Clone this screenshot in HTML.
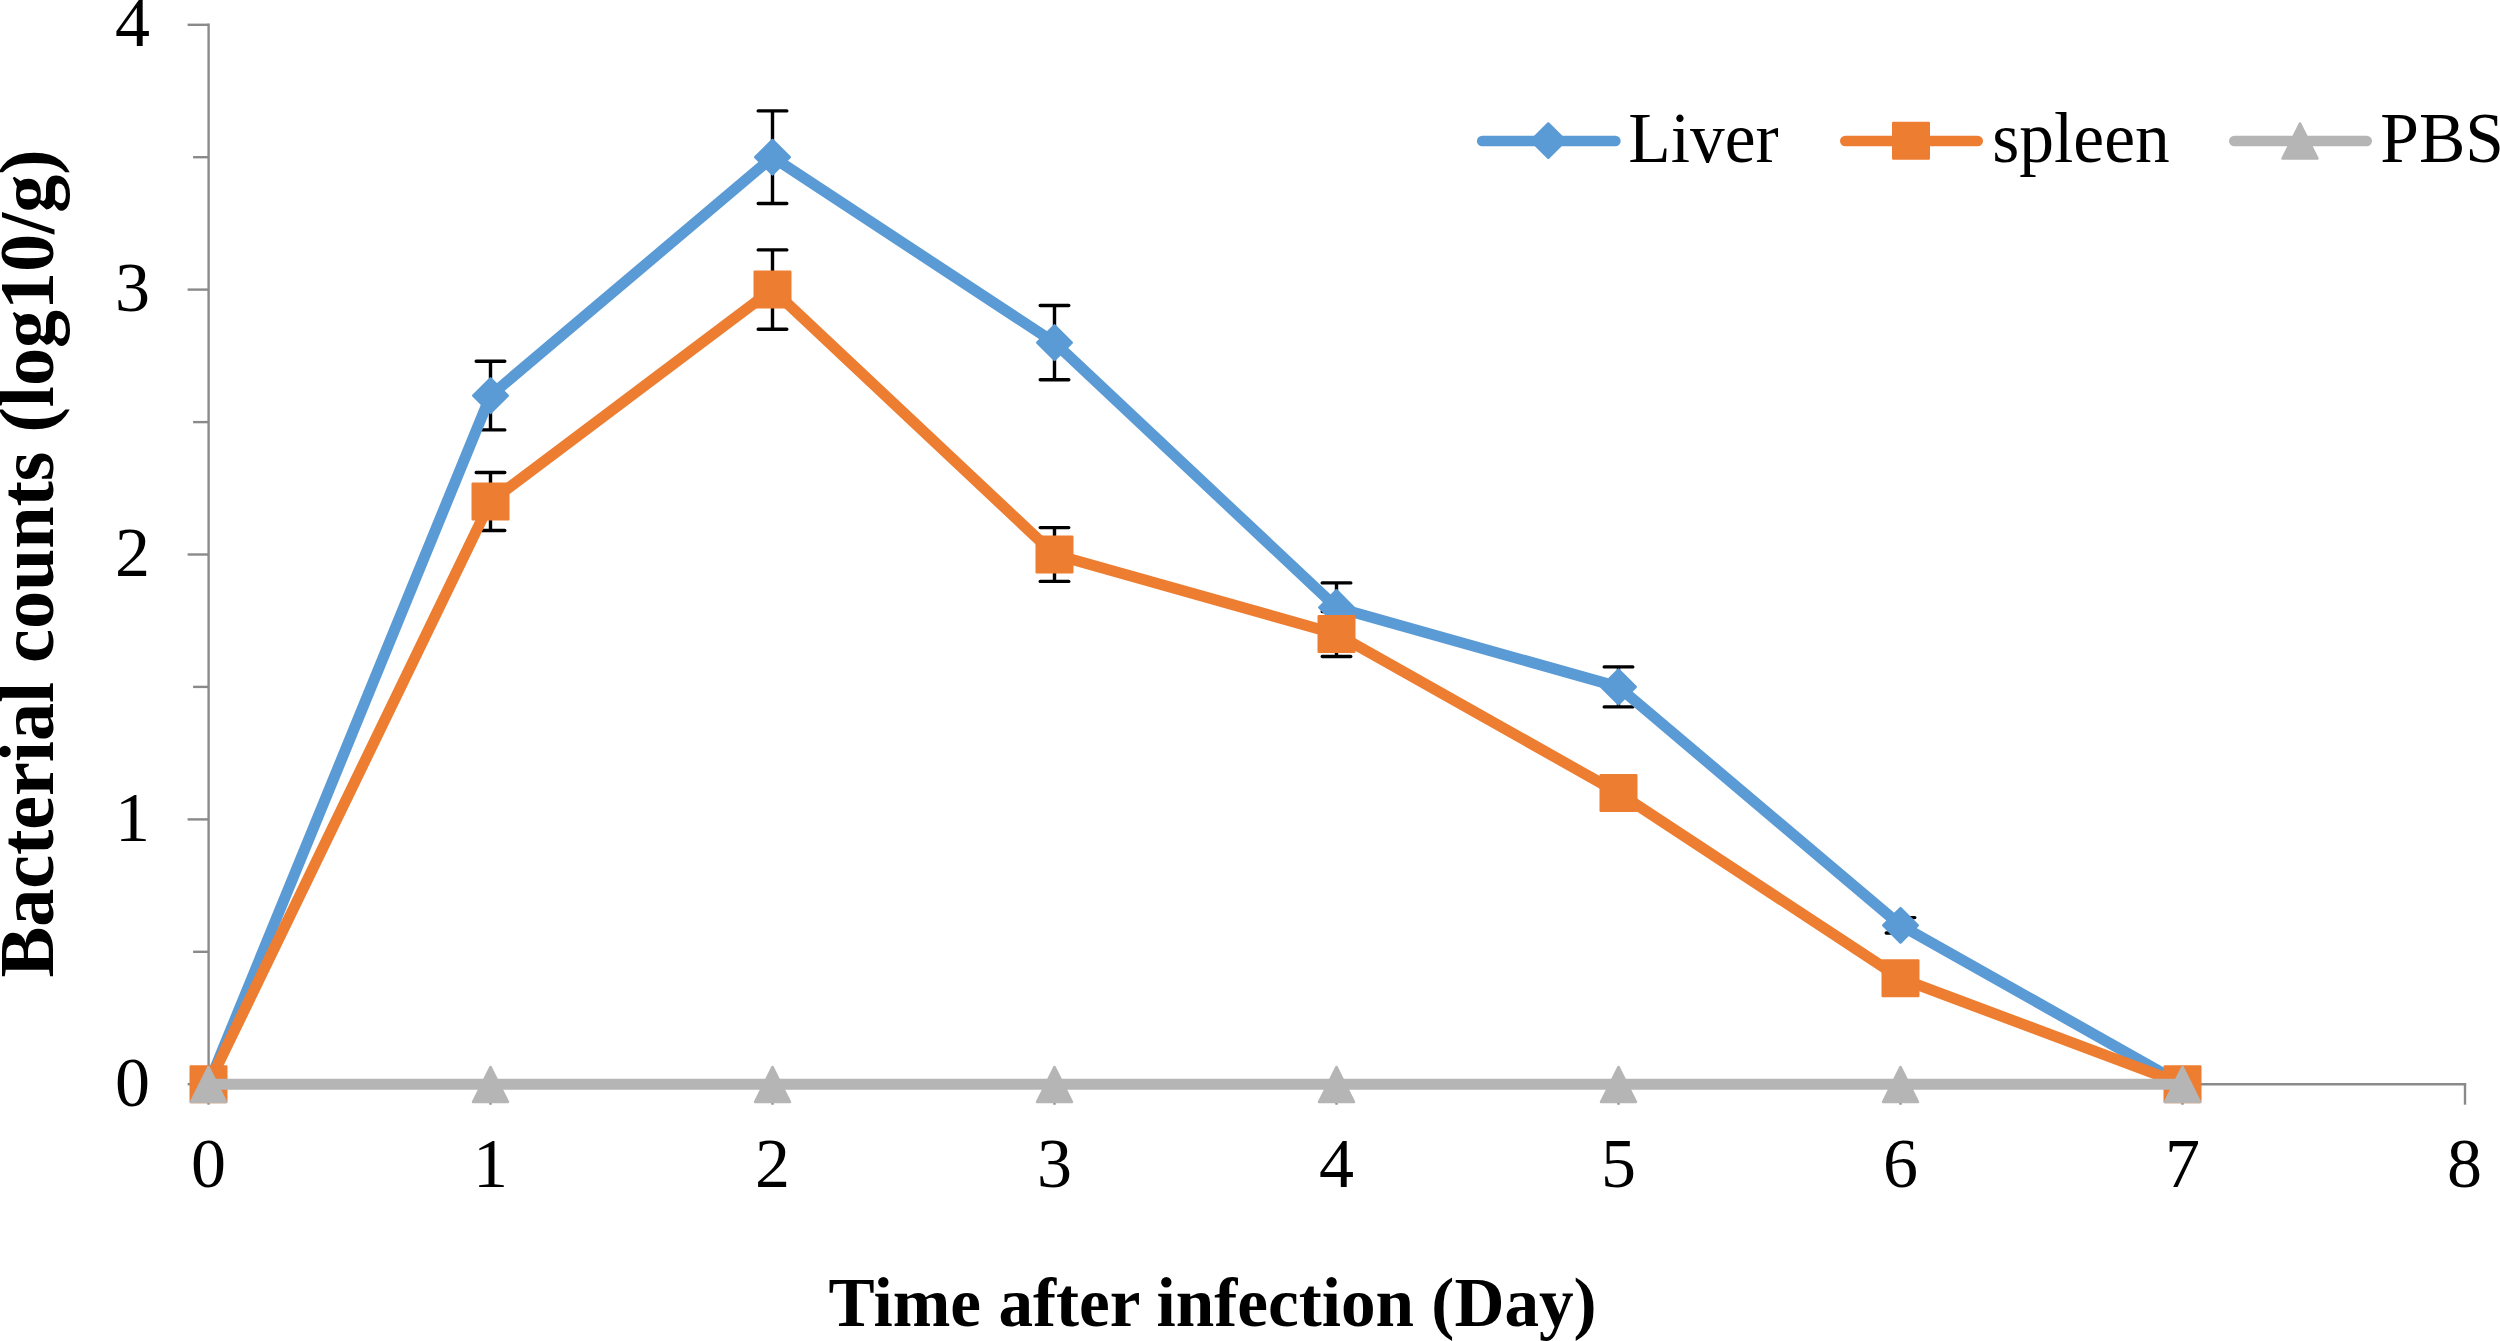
<!DOCTYPE html>
<html lang="en"><head><meta charset="utf-8"><title>Bacterial counts</title>
<style>
html,body{margin:0;padding:0;background:#fff;}
body{width:2500px;height:1341px;overflow:hidden;}
svg{display:block;}
text{font-family:"Liberation Serif","Times New Roman",serif;fill:#000;}
.t{font-size:70px;}
.b{font-weight:bold;}
</style></head><body>
<svg width="2500" height="1341" viewBox="0 0 2500 1341">
<rect width="2500" height="1341" fill="#fff"/>
<g stroke="#8a8a8a" stroke-width="2.4" fill="none" stroke-linecap="butt">
<path d="M208.6 23.6V1085.4"/>
<path d="M207.4 1084.2H2466.2"/>
<path d="M187.6 1084.2H208.6"/>
<path d="M193.1 951.8H208.6"/>
<path d="M187.6 819.4H208.6"/>
<path d="M193.1 686.9H208.6"/>
<path d="M187.6 554.5H208.6"/>
<path d="M193.1 422.1H208.6"/>
<path d="M187.6 289.6H208.6"/>
<path d="M193.1 157.2H208.6"/>
<path d="M187.6 24.8H208.6"/>
<path d="M208.5 1084.2V1104.7"/>
<path d="M490.5 1084.2V1104.7"/>
<path d="M772.5 1084.2V1104.7"/>
<path d="M1054.5 1084.2V1104.7"/>
<path d="M1336.5 1084.2V1104.7"/>
<path d="M1618.5 1084.2V1104.7"/>
<path d="M1900.5 1084.2V1104.7"/>
<path d="M2182.5 1084.2V1104.7"/>
<path d="M2465.0 1084.2V1104.7"/>
</g>
<g class="t" text-anchor="end">
<text x="150" y="1105.5">0</text>
<text x="150" y="840.6">1</text>
<text x="150" y="575.8">2</text>
<text x="150" y="310.9">3</text>
<text x="150" y="46.1">4</text>
</g>
<g class="t" text-anchor="middle">
<text x="208.5" y="1187">0</text>
<text x="490.5" y="1187">1</text>
<text x="772.5" y="1187">2</text>
<text x="1054.5" y="1187">3</text>
<text x="1336.5" y="1187">4</text>
<text x="1618.5" y="1187">5</text>
<text x="1900.5" y="1187">6</text>
<text x="2182.5" y="1187">7</text>
<text x="2464.5" y="1187">8</text>
</g>
<text class="b" transform="translate(828.6 1326) scale(0.983 1)" font-size="70.4">Time after infection (Day)</text>
<text class="b" transform="translate(52.9 977.6) rotate(-90) scale(0.963 1)" font-size="79">Bacterial counts (log10/g)</text>
<g stroke="#000" stroke-width="3.4" stroke-linecap="round" fill="none"><path d="M490.5 361.3V429.9M476.2 361.3h28.6M476.2 429.9h28.6"/><path d="M772.5 110.9V203.5M758.2 110.9h28.6M758.2 203.5h28.6"/><path d="M1054.5 305.5V379.7M1040.2 305.5h28.6M1040.2 379.7h28.6"/><path d="M1336.5 582.9V632.1M1322.2 582.9h28.6M1322.2 632.1h28.6"/><path d="M1618.5 666.9V706.9M1604.2 666.9h28.6M1604.2 706.9h28.6"/><path d="M1900.5 917.6V933.0M1886.2 917.6h28.6M1886.2 933.0h28.6"/></g>
<g stroke="#000" stroke-width="3.4" stroke-linecap="round" fill="none"><path d="M490.5 472.5V530.5M476.2 472.5h28.6M476.2 530.5h28.6"/><path d="M772.5 249.9V329.3M758.2 249.9h28.6M758.2 329.3h28.6"/><path d="M1054.5 527.6V581.4M1040.2 527.6h28.6M1040.2 581.4h28.6"/><path d="M1336.5 611.5V656.5M1322.2 611.5h28.6M1322.2 656.5h28.6"/></g>
<polyline points="208.5,1084.2 490.5,395.6 772.5,157.2 1054.5,342.6 1336.5,607.5 1618.5,686.9 1900.5,925.3 2182.5,1084.2" fill="none" stroke="#5b9bd5" stroke-width="11" stroke-linejoin="round" stroke-linecap="round"/>
<path d="M208.5 1066.9L225.8 1084.2L208.5 1101.5L191.2 1084.2Z" fill="#5b9bd5" stroke="#5b9bd5" stroke-width="2.4" stroke-linejoin="round"/>
<path d="M490.5 378.3L507.8 395.6L490.5 412.9L473.2 395.6Z" fill="#5b9bd5" stroke="#5b9bd5" stroke-width="2.4" stroke-linejoin="round"/>
<path d="M772.5 139.9L789.8 157.2L772.5 174.5L755.2 157.2Z" fill="#5b9bd5" stroke="#5b9bd5" stroke-width="2.4" stroke-linejoin="round"/>
<path d="M1054.5 325.3L1071.8 342.6L1054.5 359.9L1037.2 342.6Z" fill="#5b9bd5" stroke="#5b9bd5" stroke-width="2.4" stroke-linejoin="round"/>
<path d="M1336.5 590.2L1353.8 607.5L1336.5 624.8L1319.2 607.5Z" fill="#5b9bd5" stroke="#5b9bd5" stroke-width="2.4" stroke-linejoin="round"/>
<path d="M1618.5 669.6L1635.8 686.9L1618.5 704.2L1601.2 686.9Z" fill="#5b9bd5" stroke="#5b9bd5" stroke-width="2.4" stroke-linejoin="round"/>
<path d="M1900.5 908.0L1917.8 925.3L1900.5 942.6L1883.2 925.3Z" fill="#5b9bd5" stroke="#5b9bd5" stroke-width="2.4" stroke-linejoin="round"/>
<path d="M2182.5 1066.9L2199.8 1084.2L2182.5 1101.5L2165.2 1084.2Z" fill="#5b9bd5" stroke="#5b9bd5" stroke-width="2.4" stroke-linejoin="round"/>
<polyline points="208.5,1084.2 490.5,501.5 772.5,289.6 1054.5,554.5 1336.5,634.0 1618.5,792.9 1900.5,978.3 2182.5,1084.2" fill="none" stroke="#ed7d31" stroke-width="11" stroke-linejoin="round" stroke-linecap="round"/>
<rect x="190.7" y="1066.4" width="35.6" height="35.6" fill="#ed7d31" stroke="#ed7d31" stroke-width="2.4" stroke-linejoin="round"/>
<rect x="472.7" y="483.7" width="35.6" height="35.6" fill="#ed7d31" stroke="#ed7d31" stroke-width="2.4" stroke-linejoin="round"/>
<rect x="754.7" y="271.8" width="35.6" height="35.6" fill="#ed7d31" stroke="#ed7d31" stroke-width="2.4" stroke-linejoin="round"/>
<rect x="1036.7" y="536.7" width="35.6" height="35.6" fill="#ed7d31" stroke="#ed7d31" stroke-width="2.4" stroke-linejoin="round"/>
<rect x="1318.7" y="616.2" width="35.6" height="35.6" fill="#ed7d31" stroke="#ed7d31" stroke-width="2.4" stroke-linejoin="round"/>
<rect x="1600.7" y="775.1" width="35.6" height="35.6" fill="#ed7d31" stroke="#ed7d31" stroke-width="2.4" stroke-linejoin="round"/>
<rect x="1882.7" y="960.5" width="35.6" height="35.6" fill="#ed7d31" stroke="#ed7d31" stroke-width="2.4" stroke-linejoin="round"/>
<rect x="2164.7" y="1066.4" width="35.6" height="35.6" fill="#ed7d31" stroke="#ed7d31" stroke-width="2.4" stroke-linejoin="round"/>
<polyline points="208.5,1084.2 490.5,1084.2 772.5,1084.2 1054.5,1084.2 1336.5,1084.2 1618.5,1084.2 1900.5,1084.2 2182.5,1084.2" fill="none" stroke="#b5b5b5" stroke-width="11" stroke-linejoin="round" stroke-linecap="round"/>
<path d="M208.5 1066.88L226.06 1102.00H190.94Z" fill="#b5b5b5" stroke="#b5b5b5" stroke-width="2.4" stroke-linejoin="round"/>
<path d="M490.5 1066.88L508.06 1102.00H472.94Z" fill="#b5b5b5" stroke="#b5b5b5" stroke-width="2.4" stroke-linejoin="round"/>
<path d="M772.5 1066.88L790.06 1102.00H754.94Z" fill="#b5b5b5" stroke="#b5b5b5" stroke-width="2.4" stroke-linejoin="round"/>
<path d="M1054.5 1066.88L1072.06 1102.00H1036.94Z" fill="#b5b5b5" stroke="#b5b5b5" stroke-width="2.4" stroke-linejoin="round"/>
<path d="M1336.5 1066.88L1354.06 1102.00H1318.94Z" fill="#b5b5b5" stroke="#b5b5b5" stroke-width="2.4" stroke-linejoin="round"/>
<path d="M1618.5 1066.88L1636.06 1102.00H1600.94Z" fill="#b5b5b5" stroke="#b5b5b5" stroke-width="2.4" stroke-linejoin="round"/>
<path d="M1900.5 1066.88L1918.06 1102.00H1882.94Z" fill="#b5b5b5" stroke="#b5b5b5" stroke-width="2.4" stroke-linejoin="round"/>
<path d="M2182.5 1066.88L2200.06 1102.00H2164.94Z" fill="#b5b5b5" stroke="#b5b5b5" stroke-width="2.4" stroke-linejoin="round"/>
<path d="M1482.2 141H1615.4" stroke="#5b9bd5" stroke-width="10.6" stroke-linecap="round" fill="none"/>
<path d="M1548.3 123.4L1565.6 140.7L1548.3 158.0L1531.0 140.7Z" fill="#5b9bd5" stroke="#5b9bd5" stroke-width="2.4" stroke-linejoin="round"/>
<path d="M1845.3 141H1977.7" stroke="#ed7d31" stroke-width="10.6" stroke-linecap="round" fill="none"/>
<rect x="1893.2" y="122.9" width="35.6" height="35.6" fill="#ed7d31" stroke="#ed7d31" stroke-width="2.4" stroke-linejoin="round"/>
<path d="M2234.3 141H2366.7" stroke="#b5b5b5" stroke-width="10.6" stroke-linecap="round" fill="none"/>
<path d="M2300.0 123.38L2317.56 158.50H2282.44Z" fill="#b5b5b5" stroke="#b5b5b5" stroke-width="2.4" stroke-linejoin="round"/>
<g class="t">
<text transform="translate(1628.3 162.2) scale(0.978 1)" font-size="71">Liver</text>
<text transform="translate(1992.3 162.2) scale(0.978 1)" font-size="71">spleen</text>
<text transform="translate(2380.3 162.2) scale(0.978 1)" font-size="71">PBS</text>
</g>
</svg></body></html>
